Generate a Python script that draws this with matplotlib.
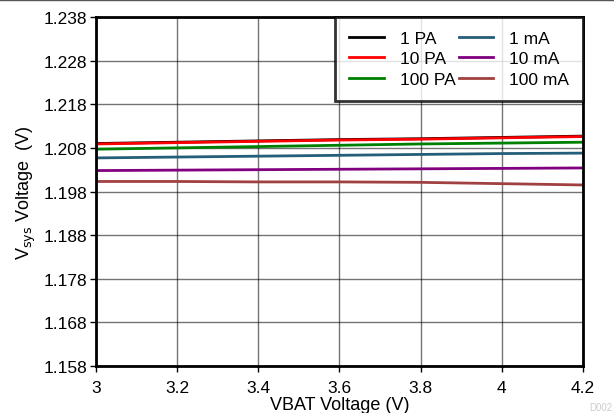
import matplotlib
matplotlib.use("Agg")
import matplotlib.pyplot as plt

plt.rcParams['font.family'] = ['Liberation Sans', 'DejaVu Sans']

vbat = [3.0, 3.2, 3.4, 3.6, 3.8, 4.0, 4.2]

v_1pa = [1.2090, 1.2093, 1.2096, 1.2099, 1.2101, 1.2104, 1.2107]
v_10pa = [1.2089, 1.2092, 1.2095, 1.2098, 1.2100, 1.2103, 1.2106]
v_100pa = [1.2077, 1.2080, 1.2083, 1.2086, 1.2089, 1.2091, 1.2093]
v_1ma = [1.2057, 1.2059, 1.2061, 1.2063, 1.2065, 1.2067, 1.2068]
v_10ma = [1.2028, 1.2029, 1.2030, 1.2031, 1.2032, 1.2033, 1.2034]
v_100ma = [1.2003, 1.2003, 1.2002, 1.2002, 1.2001, 1.1998, 1.1995]

labels = ['1 PA', '10 PA', '100 PA', '1 mA', '10 mA', '100 mA']
colors = ['black', 'red', 'green', '#255e79', 'purple', '#a04040']

xticks = [3, 3.2, 3.4, 3.6, 3.8, 4, 4.2]
xticklabels = ['3', '3.2', '3.4', '3.6', '3.8', '4', '4.2']
yticks = [1.158, 1.168, 1.178, 1.188, 1.198, 1.208, 1.218, 1.228, 1.238]

fig = plt.figure(figsize=(6.14, 4.14), dpi=100)
ax = fig.add_axes([0.156, 0.1135, 0.7935, 0.843])

series = [v_1pa, v_10pa, v_100pa, v_1ma, v_10ma, v_100ma]
for s, lab, c in zip(series, labels, colors):
    ax.plot(vbat, s, color=c, lw=2, label=lab)

ax.set_xlim(3, 4.2)
ax.set_ylim(1.158, 1.238)
ax.set_xticks(xticks)
ax.set_xticklabels(xticklabels)
ax.set_yticks(yticks)
ax.set_yticklabels(['%.3f' % t for t in yticks])
ax.tick_params(labelsize=12.5, length=4, width=1, direction='out', pad=2)
ax.tick_params(axis='x', pad=6)
ax.grid(True, color='#000000', lw=1, alpha=0.55)
for sp in ax.spines.values():
    sp.set_linewidth(2)

ax.set_xlabel('VBAT Voltage (V)', fontsize=13, labelpad=1)
ax.set_ylabel('V$_{\\rm sys}$ Voltage  (V)', fontsize=13, labelpad=4)

# legend order: column 1 then column 2
leg = ax.legend(ncol=2, loc='upper right', fontsize=12.5, frameon=True,
                fancybox=False, borderaxespad=0, handlelength=2.0,
                handletextpad=0.9, columnspacing=0.2, labelspacing=0.3,
                borderpad=0.8)
leg.get_frame().set_edgecolor('black')
leg.get_frame().set_linewidth(2)

fig.add_artist(plt.Line2D([0, 1], [0.998, 0.998], color='#555555', lw=1))
fig.text(0.998, 0.002, 'D002', fontsize=7, color='#cccccc', ha='right', va='bottom')

fig.savefig('out.png', dpi=100)
